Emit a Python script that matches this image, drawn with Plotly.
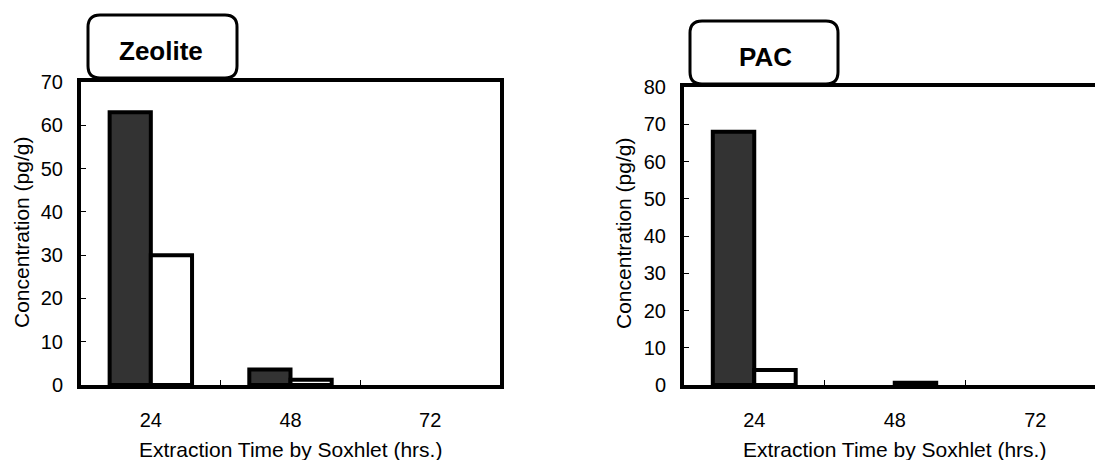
import plotly.graph_objects as go

# ---- data ----
hours = ["24", "48", "72"]
zeolite_dark = [63, 3.6, 0]
zeolite_white = [30, 1.2, 0]
pac_dark = [68, 0, 0]
pac_white = [4, 0.6, 0]
y_ticks_zeolite = [0, 10, 20, 30, 40, 50, 60, 70]
y_ticks_pac = [0, 10, 20, 30, 40, 50, 60, 70, 80]
panel_titles = ["Zeolite", "PAC"]
x_title = "Extraction Time by Soxhlet (hrs.)"
y_title = "Concentration (pg/g)"

W, H = 1095, 460
FONT = "Liberation Sans, Arial, sans-serif"


def px(x):
    return x / W


def py(y):
    return 1 - y / H


def nz(values):
    # zero-height bars are not drawn in the reference
    return [v if v > 0 else None for v in values]


def rounded_box(x0, y0, x1, y1, r):
    pts = [
        ("M", [(x0 + r, y0)]),
        ("L", [(x1 - r, y0)]),
        ("Q", [(x1, y0), (x1, y0 + r)]),
        ("L", [(x1, y1 - r)]),
        ("Q", [(x1, y1), (x1 - r, y1)]),
        ("L", [(x0 + r, y1)]),
        ("Q", [(x0, y1), (x0, y1 - r)]),
        ("L", [(x0, y0 + r)]),
        ("Q", [(x0, y0), (x0 + r, y0)]),
    ]
    s = ""
    for cmd, ps in pts:
        s += cmd + " " + " ".join(f"{px(a):.5f},{py(b):.5f}" for a, b in ps) + " "
    return s + "Z"


fig = go.Figure()

dark_marker = dict(color="#333333", line=dict(color="black", width=4))
white_marker = dict(color="white", line=dict(color="black", width=4))

fig.add_trace(go.Bar(x=hours, y=nz(zeolite_dark), marker=dark_marker, xaxis="x", yaxis="y", showlegend=False))
fig.add_trace(go.Bar(x=hours, y=nz(zeolite_white), marker=white_marker, xaxis="x", yaxis="y", showlegend=False))
fig.add_trace(go.Bar(x=hours, y=nz(pac_dark), marker=dark_marker, xaxis="x2", yaxis="y2", showlegend=False))
fig.add_trace(go.Bar(x=hours, y=nz(pac_white), marker=white_marker, xaxis="x2", yaxis="y2", showlegend=False))

tickfont = dict(family=FONT, size=20, color="black")

common_x = dict(type="category", showline=True, linecolor="black", linewidth=4, mirror=True,
                ticks="inside", tickson="boundaries", ticklen=5, tickwidth=1, tickcolor="black",
                tickfont=tickfont, showgrid=False, zeroline=False, fixedrange=True,
                ticklabelstandoff=14, automargin=False)
common_y = dict(showline=True, linecolor="black", linewidth=4,
                ticks="inside", ticklen=5, tickwidth=1, tickcolor="black",
                tickfont=tickfont, showgrid=False, zeroline=False, fixedrange=True,
                ticklabelstandoff=10, automargin=False)

L = dict(x0=81, x1=500, y0=82, y1=385)
R = dict(x0=684, x1=1095, y0=87, y1=385)
cat_w_right = 140.5

fig.update_layout(
    width=W, height=H, margin=dict(l=0, r=0, t=0, b=0, pad=0), autosize=False,
    paper_bgcolor="white", plot_bgcolor="white",
    barmode="group", bargap=0.41, bargroupgap=0,
    xaxis=dict(common_x, domain=[px(L["x0"]), px(L["x1"])], range=[-0.5, 2.5], anchor="y"),
    yaxis=dict(common_y, domain=[py(L["y1"]), py(L["y0"])], range=[0, 70], tickvals=y_ticks_zeolite,
               mirror=True, anchor="x"),
    xaxis2=dict(common_x, domain=[px(R["x0"]), 1], range=[-0.5, 2.5 - (1105.5 - 1095) / cat_w_right],
                anchor="y2"),
    yaxis2=dict(common_y, domain=[py(R["y1"]), py(R["y0"])], range=[0, 80], tickvals=y_ticks_pac,
                mirror=False, anchor="x2"),
    font=dict(family=FONT, color="black"),
)

axis_font = dict(family=FONT, size=21, color="black")
title_font = dict(family=FONT, size=26, color="black")
annotations = [
    dict(text=x_title, x=px(290.5), y=py(449), xref="paper", yref="paper", showarrow=False,
         font=axis_font, xanchor="center", yanchor="middle"),
    dict(text=x_title, x=px(894.5), y=py(449), xref="paper", yref="paper", showarrow=False,
         font=axis_font, xanchor="center", yanchor="middle"),
    dict(text=y_title, x=px(22), y=py(233), xref="paper", yref="paper", showarrow=False,
         font=axis_font, textangle=-90, xanchor="center", yanchor="middle"),
    dict(text=y_title, x=px(624), y=py(234), xref="paper", yref="paper", showarrow=False,
         font=axis_font, textangle=-90, xanchor="center", yanchor="middle"),
    dict(text="<b>" + panel_titles[0] + "</b>", x=px(161), y=py(51), xref="paper", yref="paper",
         showarrow=False, font=title_font, xanchor="center", yanchor="middle"),
    dict(text="<b>" + panel_titles[1] + "</b>", x=px(765), y=py(57), xref="paper", yref="paper",
         showarrow=False, font=title_font, xanchor="center", yanchor="middle"),
]
fig.update_layout(annotations=annotations)

shapes = [
    dict(type="path", path=rounded_box(88, 15, 237, 78, 12), xref="paper", yref="paper",
         line=dict(color="black", width=3), fillcolor="white", layer="above"),
    dict(type="path", path=rounded_box(690, 21, 838, 84, 12), xref="paper", yref="paper",
         line=dict(color="black", width=3), fillcolor="white", layer="above"),
]
fig.update_layout(shapes=shapes)

fig.write_html("out.html")
